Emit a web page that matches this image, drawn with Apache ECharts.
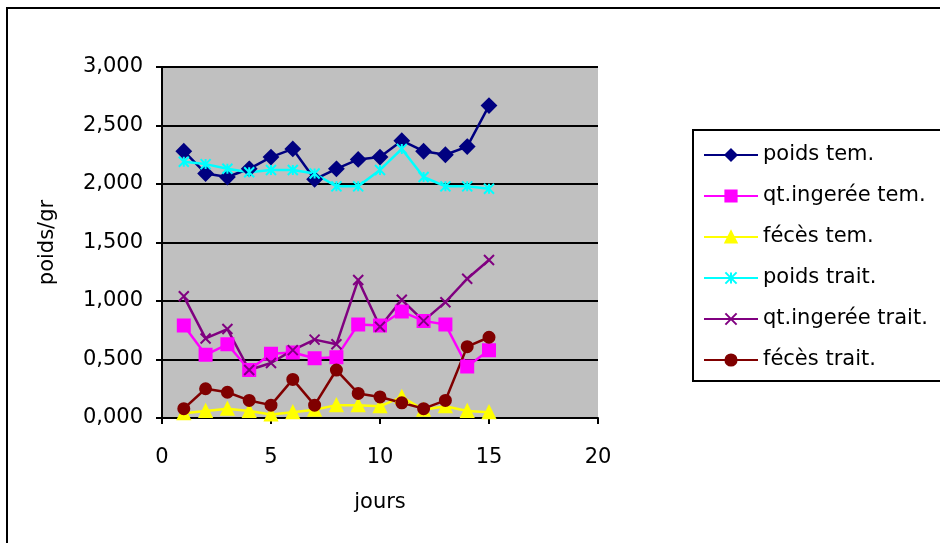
<!DOCTYPE html>
<html>
<head>
<meta charset="utf-8">
<script src="https://cdn.jsdelivr.net/npm/echarts@6/dist/echarts.min.js"></script>
<style>
html,body{margin:0;padding:0;background:#fff;}
#chart{width:940px;height:543px;}
</style>
</head>
<body>
<div id="chart"></div>
<script>
// jours 1..15
var jours = [1,2,3,4,5,6,7,8,9,10,11,12,13,14,15];

var poidsTem      = [2.28,2.09,2.06,2.13,2.23,2.30,2.04,2.13,2.21,2.23,2.37,2.28,2.25,2.32,2.67];
var qtIngereeTem  = [0.79,0.54,0.63,0.41,0.55,0.56,0.51,0.52,0.80,0.79,0.91,0.83,0.80,0.44,0.58];
var fecesTem      = [0.04,0.06,0.08,0.06,0.03,0.05,0.07,0.11,0.11,0.10,0.18,0.07,0.10,0.06,0.05];
var poidsTrait    = [2.19,2.17,2.13,2.10,2.12,2.12,2.09,1.98,1.98,2.12,2.30,2.06,1.98,1.98,1.96];
var qtIngereeTrait= [1.04,0.68,0.76,0.41,0.47,0.58,0.67,0.63,1.18,0.78,1.01,0.83,0.99,1.19,1.35];
var fecesTrait    = [0.08,0.25,0.22,0.15,0.11,0.33,0.11,0.41,0.21,0.18,0.13,0.08,0.15,0.61,0.69];

var names = ['poids tem.','qt.ingerée tem.','fécès tem.','poids trait.','qt.ingerée trait.','fécès trait.'];

function pts(arr){
    var out=[];
    arr.forEach(function(v,i){ out.push([jours[i],v]); });
    return out;
}

var font='DejaVu Sans';
var fs=21;

function serie(name,data,color,symbol,size){
    return {
        name:name,
        type:'line',
        data:pts(data),
        symbol:symbol,
        symbolSize:size,
        lineStyle:{color:color,width:2.5},
        itemStyle:{color:color,borderColor:color,borderWidth:2},
        emphasis:{disabled:true},
        animation:false
    };
}

var chart=echarts.init(document.getElementById('chart'));
var option={
    animation:false,
    graphic:[{
        type:'rect',
        shape:{x:7,y:8,width:1000,height:1000},
        style:{fill:'none',stroke:'#000',lineWidth:2}
    }],
    grid:{
        left:162,top:67,width:436,height:351,
        show:true,backgroundColor:'#c0c0c0',borderWidth:0,
        outerBoundsMode:'none'
    },
    legend:{
        left:693,top:130,
        orient:'vertical',
        backgroundColor:'#fff',
        borderColor:'#000',borderWidth:2,
        padding:[14,14,10,10],
        itemWidth:54,itemHeight:14,itemGap:19,
        textStyle:{fontFamily:font,fontSize:fs,color:'#000',lineHeight:22},
        data:names
    },
    xAxis:{
        type:'value',min:0,max:20,interval:5,
        name:'jours',nameLocation:'middle',nameGap:74,
        nameTextStyle:{fontFamily:font,fontSize:fs,color:'#000'},
        axisLine:{show:true,onZero:false,lineStyle:{color:'#000',width:2}},
        axisTick:{show:true,length:6,lineStyle:{color:'#000',width:2}},
        axisLabel:{fontFamily:font,fontSize:fs,color:'#000',margin:29},
        splitLine:{show:false}
    },
    yAxis:{
        type:'value',min:0,max:3,interval:0.5,
        name:'poids/gr',nameLocation:'middle',nameGap:104,
        nameTextStyle:{fontFamily:font,fontSize:fs,color:'#000'},
        axisLine:{show:true,lineStyle:{color:'#000',width:2}},
        axisTick:{show:true,length:6,lineStyle:{color:'#000',width:2}},
        axisLabel:{fontFamily:font,fontSize:fs,color:'#000',margin:19,
            formatter:function(v){ return v.toFixed(3).replace('.',','); }},
        splitLine:{show:true,lineStyle:{color:'#000',width:2}}
    },
    series:[
        serie(names[0],poidsTem,'#000080','diamond',14),
        serie(names[1],qtIngereeTem,'#ff00ff','rect',12),
        serie(names[2],fecesTem,'#ffff00','triangle',12),
        serie(names[3],poidsTrait,'#00ffff','path://M0,0L10,10M10,0L0,10M5,0L5,10',10),
        serie(names[4],qtIngereeTrait,'#800080','path://M0,0L10,10M10,0L0,10',10),
        serie(names[5],fecesTrait,'#800000','circle',11)
    ]
};
chart.setOption(option);
</script>
</body>
</html>
